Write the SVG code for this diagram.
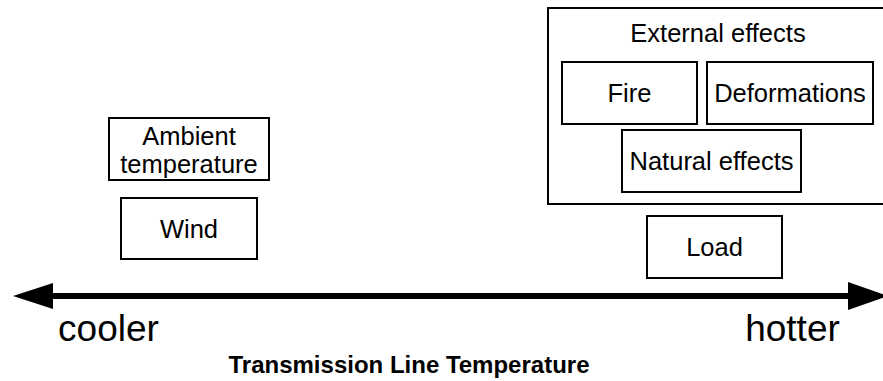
<svg xmlns="http://www.w3.org/2000/svg" width="883" height="381" viewBox="0 0 883 381">
<style>
.box{fill:#fff;stroke:#000;stroke-width:2}
.t{font-family:"Liberation Sans",Arial,sans-serif;font-size:25.5px;fill:#000;text-anchor:middle}
.big{font-family:"Liberation Sans",Arial,sans-serif;font-size:37px;fill:#000;text-anchor:middle}
.b{font-family:"Liberation Sans",Arial,sans-serif;font-size:24px;font-weight:bold;fill:#000;text-anchor:middle}
</style>
<rect width="883" height="381" fill="#fff"/>
<g id="external">
<rect class="box" x="548" y="8" width="345" height="196"/>
<text class="t" x="718" y="42">External effects</text>
</g>
<g id="fire"><rect class="box" x="562" y="62" width="135" height="62"/><text class="t" x="629.5" y="102">Fire</text></g>
<g id="deformations"><rect class="box" x="707" y="62" width="166" height="62"/><text class="t" x="790" y="102">Deformations</text></g>
<g id="natural"><rect class="box" x="622" y="130" width="179" height="62"/><text class="t" x="711.5" y="170">Natural effects</text></g>
<g id="load"><rect class="box" x="647" y="216" width="135" height="62"/><text class="t" x="714.5" y="256">Load</text></g>
<g id="ambient"><rect class="box" x="109" y="118" width="160" height="62"/><text class="t" x="189" y="145">Ambient</text><text class="t" x="189" y="173">temperature</text></g>
<g id="wind"><rect class="box" x="121" y="198" width="136" height="61"/><text class="t" x="189" y="238">Wind</text></g>
<g id="connectors">
<line x1="50" y1="296" x2="850" y2="296" stroke="#000" stroke-width="6"/>
<polygon points="13,296 53,283 53,309" fill="#000"/>
<polygon points="888,296 848,282 848,310" fill="#000"/>
</g>
<text class="big" x="108.5" y="341">cooler</text>
<text class="big" x="792.5" y="341">hotter</text>
<text class="b" x="409" y="373">Transmission Line Temperature</text>
</svg>
